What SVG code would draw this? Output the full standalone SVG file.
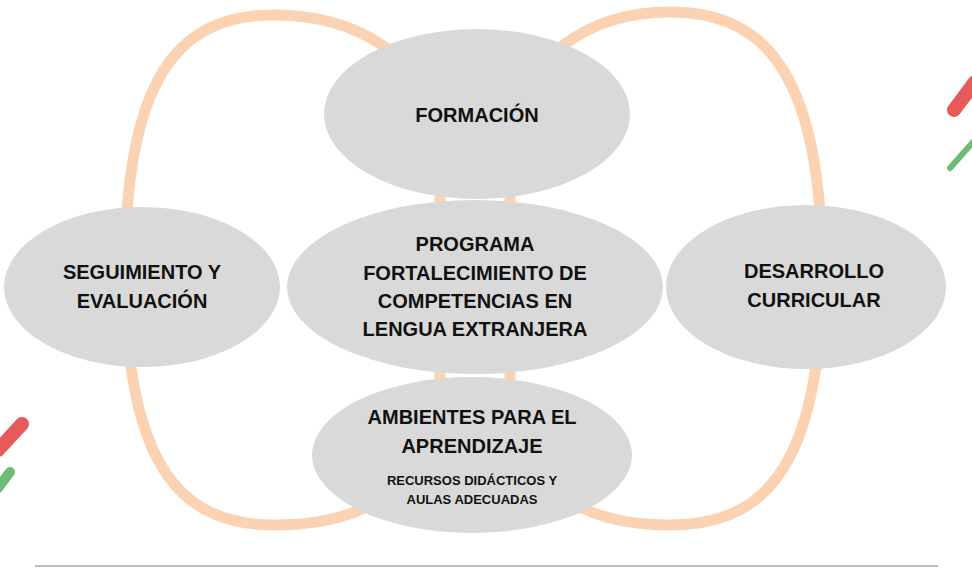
<svg xmlns="http://www.w3.org/2000/svg" width="972" height="569" viewBox="0 0 972 569">
<style>
.ring{fill:none;stroke:#fcd3b2;stroke-width:11}
.node{fill:#d9d9d9}
.t{font-family:"Liberation Sans",Arial,sans-serif;font-weight:bold;font-size:20px;fill:#111;text-anchor:middle}
.s{font-family:"Liberation Sans",Arial,sans-serif;font-weight:bold;font-size:13px;fill:#111;text-anchor:middle}
.deco{stroke-linecap:round;fill:none}
</style>
<rect width="972" height="569" fill="#fff"/>
<g id="connectors">
<path class="ring" d="M125,270 C125,60 190,15 275,15 C360,15 420,60 440,120 L440,420 C420,490 360,525 275,525 C190,525 125,480 125,270 Z"/>
<path class="ring" d="M822,270 C822,60 755,12 670,12 C585,12 530,60 510,120 L510,420 C530,490 585,525 670,525 C755,525 822,480 822,270 Z"/>
</g>
<g id="formacion"><ellipse class="node" cx="477" cy="114" rx="153" ry="85"/>
<text class="t" x="477" y="122">FORMACIÓN</text></g>
<g id="programa"><ellipse class="node" cx="475" cy="287" rx="188" ry="87"/>
<text class="t" x="475" y="251">PROGRAMA</text>
<text class="t" x="475" y="280">FORTALECIMIENTO  DE</text>
<text class="t" x="475" y="308">COMPETENCIAS EN</text>
<text class="t" x="475" y="336">LENGUA EXTRANJERA</text></g>
<g id="seguimiento"><ellipse class="node" cx="142" cy="287" rx="138" ry="80"/>
<text class="t" x="142" y="279">SEGUIMIENTO Y</text>
<text class="t" x="142" y="308">EVALUACIÓN</text></g>
<g id="desarrollo"><ellipse class="node" cx="806" cy="287" rx="140" ry="82"/>
<text class="t" x="814" y="278">DESARROLLO</text>
<text class="t" x="814" y="307">CURRICULAR</text></g>
<g id="ambientes"><ellipse class="node" cx="472" cy="455" rx="160" ry="78"/>
<text class="t" x="472" y="424">AMBIENTES PARA EL</text>
<text class="t" x="472" y="453">APRENDIZAJE</text>
<text class="s" x="472" y="485">RECURSOS DIDÁCTICOS  Y</text>
<text class="s" x="472" y="504">AULAS ADECUADAS</text></g>
<g id="decor">
<line class="deco" x1="954" y1="110" x2="975" y2="82" stroke="#e85a5a" stroke-width="14"/>
<line class="deco" x1="950" y1="168" x2="975" y2="140" stroke="#6dbb74" stroke-width="6"/>
<line class="deco" x1="-2" y1="450" x2="22" y2="424" stroke="#e85a5a" stroke-width="14"/>
<line class="deco" x1="-2" y1="488" x2="10" y2="472" stroke="#6dbb74" stroke-width="10"/>
<line x1="35" y1="566" x2="938" y2="566" stroke="#bfbfbf" stroke-width="2"/>
</g>
</svg>
